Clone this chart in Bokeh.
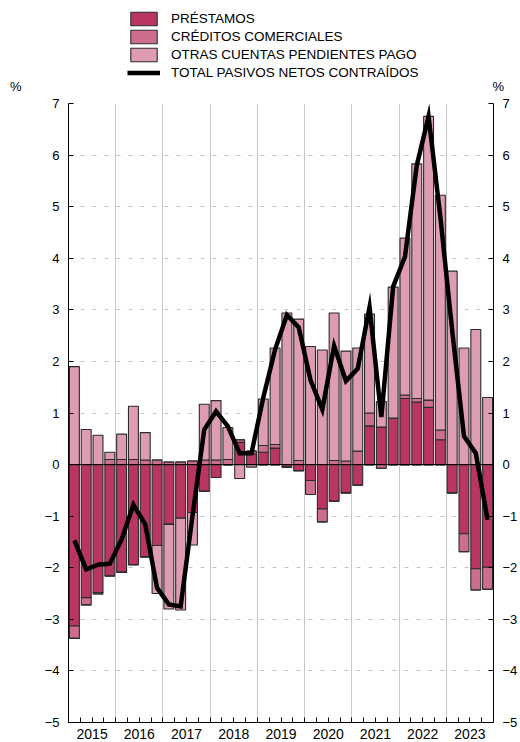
from bokeh.plotting import figure
from bokeh.layouts import column
from bokeh.models import (ColumnDataSource, FixedTicker, LinearAxis, Range1d, Span,
                          Legend, LegendItem)
from bokeh.embed import file_html
from bokeh.resources import INLINE

# ---- data (quarterly, 2015Q1 .. 2023Q4) ----
years = ["2015", "2016", "2017", "2018", "2019", "2020", "2021", "2022", "2023"]

prestamos = [-3.13, -2.58, -2.48, -2.16,
             -2.09, -1.94, -1.79, -1.57,
             -1.16, -1.04, -0.93, -0.52,
             -0.25, 0.00, 0.43, 0.21,
             0.24, 0.32, -0.05, -0.12,
             -0.31, -0.86, -0.71, -0.55,
             -0.40, 0.75, 0.73, 0.90,
             1.28, 1.21, 1.11, 0.48,
             -0.55, -1.34, -2.02, -1.99]
creditos = [-0.24, -0.14, -0.03, 0.10,
            0.10, 0.10, 0.09, 0.09,
            0.05, 0.05, 0.07, 0.09,
            0.09, 0.10, 0.05, 0.05,
            0.13, 0.07, 0.00, 0.08,
            -0.27, -0.25, 0.08, 0.07,
            0.26, 0.25, -0.07, 0.00,
            0.07, 0.07, 0.14, 0.19,
            0.00, -0.35, -0.41, -0.43]
otras = [1.90, 0.68, 0.57, 0.14,
         0.49, 1.03, 0.53, -0.93,
         -1.64, -1.78, -0.63, 1.08,
         1.15, 0.62, -0.27, -0.05,
         0.90, 1.87, 2.94, 2.74,
         2.29, 2.22, 2.86, 2.13,
         2.00, 1.92, 0.49, 2.54,
         3.04, 4.55, 5.50, 4.55,
         3.75, 2.26, 2.62, 1.30]
total = [-1.47, -2.03, -1.94, -1.92,
         -1.45, -0.78, -1.16, -2.39,
         -2.71, -2.75, -1.00, 0.68,
         1.03, 0.74, 0.22, 0.22,
         1.30, 2.23, 2.90, 2.66,
         1.64, 1.07, 2.30, 1.62,
         1.86, 3.05, 0.92, 3.45,
         4.03, 5.80, 6.75, 4.80,
         2.60, 0.55, 0.22, -1.07]

series_names = ["PRÉSTAMOS", "CRÉDITOS COMERCIALES", "OTRAS CUENTAS PENDIENTES PAGO",
                "TOTAL PASIVOS NETOS CONTRAÍDOS"]
unit_label = "%"

n = len(total)
xs = [i + 0.5 for i in range(n)]

src = ColumnDataSource(dict(
    x=xs,
    P_pos=[max(v, 0) for v in prestamos], P_neg=[min(v, 0) for v in prestamos],
    C_pos=[max(v, 0) for v in creditos], C_neg=[min(v, 0) for v in creditos],
    O_pos=[max(v, 0) for v in otras], O_neg=[min(v, 0) for v in otras],
    total=total,
))

col_p = "#b8365f"
col_c = "#cd6f8c"
col_o = "#dd9cb1"
edge = "#2b2b2b"
FONT = "Liberation Sans"

# ---------------- header (legend + % marks) ----------------
TOP_H = 96
top = figure(width=520, height=TOP_H, x_range=Range1d(0, 427), y_range=Range1d(TOP_H, 0),
             output_backend="svg", toolbar_location=None,
             x_axis_location=None, y_axis_location="left",
             min_border_left=68, min_border_right=25, min_border_top=0, min_border_bottom=0)
top.outline_line_color = None
top.xgrid.visible = False
top.ygrid.visible = False

pct_tick = FixedTicker(ticks=[91])
top_right = LinearAxis(ticker=pct_tick)
top.add_layout(top_right, "right")
top.yaxis[0].ticker = pct_tick
for ax, so in ((top.yaxis[0], 41), (top_right, -7)):
    ax.major_label_overrides = {91: unit_label}
    ax.major_tick_line_color = None
    ax.minor_tick_line_color = None
    ax.axis_line_color = None
    ax.major_label_standoff = so
    ax.major_label_text_font = FONT
    ax.major_label_text_font_size = "13px"
    ax.major_label_text_color = "black"

proxy = ColumnDataSource(dict(x=[float("nan")], y=[float("nan")]))
lr = []
for c in (col_p, col_c, col_o):
    lr.append(top.vbar(x="x", top="y", width=1, source=proxy, fill_color=c,
                       line_color=edge, line_width=1.1))
lr.append(top.line(x="x", y="y", source=proxy, line_color="black", line_width=4.5))

legend = Legend(items=[LegendItem(label=nm, renderers=[r]) for nm, r in zip(series_names, lr)],
                location=(59, 15), orientation="vertical")
legend.glyph_width = 33
legend.glyph_height = 17
legend.label_height = 17
legend.spacing = 1
legend.padding = 0
legend.margin = 0
legend.label_standoff = 11
legend.border_line_color = None
legend.background_fill_alpha = 0
legend.label_text_font = FONT
legend.label_text_font_size = "13.5px"
legend.label_text_color = "black"
legend.label_text_baseline = "middle"
top.add_layout(legend, "center")

# ---------------- main chart ----------------
p = figure(width=520, height=742 - TOP_H, x_range=Range1d(0, 36), y_range=Range1d(-5, 7),
           output_backend="svg", toolbar_location=None,
           min_border_left=68, min_border_right=25, min_border_top=7, min_border_bottom=20)
p.outline_line_color = None
p.background_fill_color = "white"

pos = p.vbar_stack(["P_pos", "C_pos", "O_pos"], x="x", width=0.84, source=src,
                   fill_color=[col_p, col_c, col_o], line_color=edge, line_width=1.1)
neg = p.vbar_stack(["P_neg", "C_neg", "O_neg"], x="x", width=0.84, source=src,
                   fill_color=[col_p, col_c, col_o], line_color=edge, line_width=1.1)

p.add_layout(Span(location=0, dimension="width", line_color="black", line_width=1))

ln = p.line("x", "total", source=src, line_color="black", line_width=4.5, line_join="miter")

year_centers = [2 + 4 * i for i in range(len(years))]
p.xaxis.ticker = FixedTicker(ticks=year_centers, minor_ticks=list(range(0, 37)))
p.xaxis.major_label_overrides = {c: y for c, y in zip(year_centers, years)}
p.xaxis.major_tick_line_color = None
p.xaxis.minor_tick_in = 5
p.xaxis.minor_tick_out = 0
p.xaxis.minor_tick_line_color = "black"
p.xaxis.axis_line_color = "black"
p.xaxis.major_label_text_font = FONT
p.xaxis.major_label_text_font_size = "14px"
p.xaxis.major_label_text_color = "black"
p.xaxis.major_label_standoff = 0

yt = FixedTicker(ticks=list(range(-5, 8)))
p.yaxis.ticker = yt
right = LinearAxis(ticker=yt)
p.add_layout(right, "right")
for ax in (p.yaxis[0], right):
    ax.major_tick_in = 5
    ax.major_tick_out = 0
    ax.minor_tick_line_color = None
    ax.axis_line_color = "black"
    ax.major_tick_line_color = "black"
    ax.major_label_text_font = FONT
    ax.major_label_text_font_size = "13px"
    ax.major_label_text_color = "black"
    ax.major_label_standoff = 9

p.xgrid.ticker = FixedTicker(ticks=[4 * i for i in range(1, 9)])
p.xgrid.grid_line_color = "#c8c8c8"
p.xgrid.grid_line_width = 1
p.ygrid.ticker = FixedTicker(ticks=[v for v in range(-4, 8) if v != 0])
p.ygrid.grid_line_color = "#c4c4c4"
p.ygrid.grid_line_dash = "4 8"

layout = column(top, p, spacing=0)
open("out.html", "w").write(file_html(layout, INLINE))
